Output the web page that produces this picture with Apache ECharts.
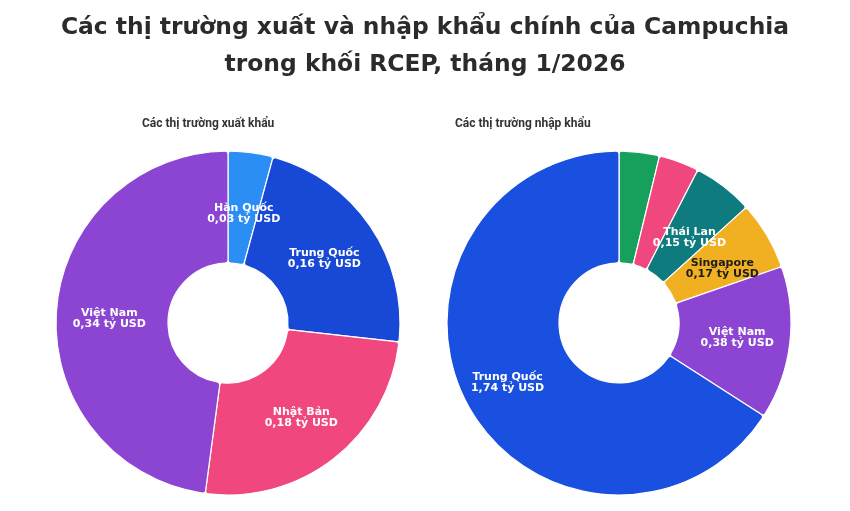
<!DOCTYPE html>
<html><head><meta charset="utf-8">
<script src="https://cdn.jsdelivr.net/npm/echarts@6/dist/echarts.min.js"></script>
<style>html,body{margin:0;padding:0;background:#fff}#c{width:850px;height:511px}</style>
</head><body><div id="c"></div>
<script>
const titleLines = ['Các thị trường xuất và nhập khẩu chính của Campuchia', 'trong khối RCEP, tháng 1/2026'];
const subTitles = ['Các thị trường xuất khẩu', 'Các thị trường nhập khẩu'];

const exportNames = ['Hàn Quốc', 'Trung Quốc', 'Nhật Bản', 'Việt Nam'];
const exportValues = [0.03, 0.16, 0.18, 0.34];

const importNames = ['Indonesia', 'Nhật Bản', 'Thái Lan', 'Singapore', 'Việt Nam', 'Trung Quốc'];
const importValues = [0.10, 0.10, 0.15, 0.17, 0.38, 1.74];

// styling (kept separate from data)
const exportColors = ['#2a8ef4', '#1848d6', '#f0477e', '#8c45d3'];
const importColors = ['#17a05b', '#f0477e', '#0e7b7f', '#f0b021', '#8c45d3', '#1a50df'];
const importShowLabel = [false, false, true, true, true, true];
const exportLabelOffset = [[0, 9], [-2, 3], [0, 1], [0, 4]];
const importLabelOffset = [[0, 0], [0, 0], [-2, 9], [1, 6], [0, 1], [-7, 3]];

const fmt = v => v.toFixed(2).replace('.', ',') + ' tỷ USD';

const TITLE_FONT = '"DejaVu Sans", "Noto Sans", sans-serif';
const LABEL_FONT = '"DejaVu Sans", sans-serif';
const SUB_FONT = 'Roboto, "Noto Sans", sans-serif';

function buildData(names, values, colors, show, offsets) {
  return names.map((n, i) => ({
    name: n,
    value: values[i],
    itemStyle: { color: colors[i] },
    label: {
      show: show ? show[i] : true,
      offset: offsets[i],
      color: n === 'Singapore' ? '#1b1b1b' : '#ffffff'
    }
  }));
}

const baseSeries = {
  type: 'pie',
  radius: [60, 172],
  startAngle: 90,
  clockwise: true,
  avoidLabelOverlap: false,
  animation: false,
  emphasis: { disabled: true },
  itemStyle: { borderColor: '#ffffff', borderWidth: 1.2, borderRadius: 3 },
  labelLine: { show: false },
  label: {
    position: 'inside',
    fontFamily: LABEL_FONT,
    fontSize: 11,
    fontWeight: 'bold',
    lineHeight: 11,
    formatter: p => p.name + '\n' + fmt(p.value)
  }
};

const titleStyle = { fontFamily: TITLE_FONT, fontSize: 23.4, fontWeight: 'bold', color: '#2b2b2b' };
const subStyle = { fontFamily: SUB_FONT, fontSize: 12, fontWeight: 'bold', color: '#333333' };

const chart = echarts.init(document.getElementById('c'), null, { renderer: 'canvas' });
chart.setOption({
  backgroundColor: '#ffffff',
  animation: false,
  title: [
    { text: titleLines[0], left: 'center', top: 11, textStyle: titleStyle },
    { text: titleLines[1], left: 'center', top: 48, textStyle: titleStyle },
    { text: subTitles[0], left: 137, top: 113, textStyle: subStyle },
    { text: subTitles[1], left: 450, top: 113, textStyle: subStyle }
  ],
  series: [
    Object.assign({}, baseSeries, {
      name: 'Xuất khẩu',
      center: [228, 323],
      data: buildData(exportNames, exportValues, exportColors, null, exportLabelOffset)
    }),
    Object.assign({}, baseSeries, {
      name: 'Nhập khẩu',
      center: [619, 323],
      data: buildData(importNames, importValues, importColors, importShowLabel, importLabelOffset)
    })
  ]
});
</script>
</body></html>
